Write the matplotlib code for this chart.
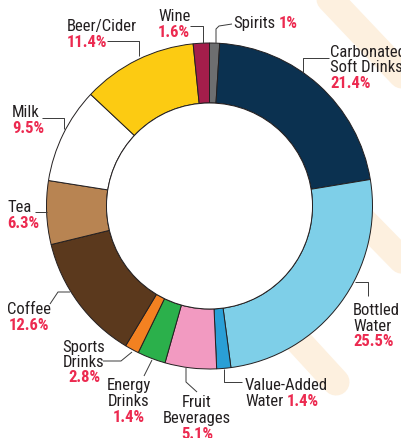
import matplotlib
matplotlib.use("Agg")
import matplotlib.pyplot as plt
from matplotlib import font_manager as fm

# ---------------- data ----------------
categories = ["Spirits", "Carbonated Soft Drinks", "Bottled Water", "Value-Added Water",
              "Fruit Beverages", "Energy Drinks", "Sports Drinks", "Coffee", "Tea",
              "Milk", "Beer/Cider", "Wine"]
# slice sizes as drawn in the ring (clockwise from 12 o'clock)
ring_share = [1.0, 21.4, 25.5, 1.4, 5.1, 2.8, 1.4, 12.6, 6.3, 9.5, 11.4, 1.6]
# percentages as printed on the labels
label_pct = ["1%", "21.4%", "25.5%", "1.4%", "5.1%", "1.4%", "2.8%", "12.6%", "6.3%",
             "9.5%", "11.4%", "1.6%"]
colors = ["#6d6e70", "#0b3150", "#7ecfe8", "#2a9fd6", "#f29ac1", "#2bb04b", "#f38121",
          "#5b391d", "#b88452", "#ffffff", "#fccb12", "#a41e4b"]

W, H = 401, 439
TXT = "#231f20"
RED = "#ec2a50"
LEAD = "#3a3a3a"
BEIGE = "#fdf0df"
FS = 12

available = {f.name for f in fm.fontManager.ttflist}
prefs = ["Liberation Sans Narrow", "Roboto Condensed", "Arial Narrow", "Archivo Narrow",
         "PT Sans Narrow", "IBM Plex Sans Condensed", "Fira Sans Condensed",
         "Asap Condensed", "Encode Sans Condensed", "Liberation Sans"]
FAM = ["DejaVu Sans"]
for p in prefs:
    if p in available:
        FAM = [p, "DejaVu Sans"]
        break

fig = plt.figure(figsize=(W / 100, H / 100), dpi=100)
ax = fig.add_axes([0, 0, 1, 1])


def Y(y):
    return H - y


# decorative background stripes
for (x0, y0), (x1, y1) in [((311, -20), (420, 95)),
                            ((350, 208), (440, 300)),
                            ((280, 322), (336, 383))]:
    ax.plot([x0, x1], [Y(y0), Y(y1)], color=BEIGE, lw=19.5,
            solid_capstyle="round", zorder=0)

# donut
cx, cy, R = 209.5, 207, 163
ax.pie(ring_share, colors=colors, startangle=90, counterclock=False,
       center=(cx, Y(cy)), radius=R,
       wedgeprops=dict(width=60, edgecolor="#231f20", linewidth=0.7),
       frame=True)
ax.add_patch(plt.Circle((cx, Y(cy)), R - 60, facecolor="white", edgecolor="#231f20",
                        linewidth=0.7, zorder=3))

ax.set_xlim(0, W)
ax.set_ylim(0, H)
ax.set_aspect("equal")
ax.axis("off")

renderer = fig.canvas.get_renderer()


def line(x, y, s, color=TXT, bold=False, ha="left"):
    return ax.text(x, Y(y), s, color=color, fontsize=FS, family=FAM,
                   fontweight="bold" if bold else "normal", ha=ha, va="baseline",
                   zorder=5)


def mixed(x, y, s1, s2, gap=4):
    t = line(x, y, s1)
    bb = t.get_window_extent(renderer=renderer)
    line(bb.x1 + gap, y, s2, color=RED, bold=True)


idx = {c: i for i, c in enumerate(categories)}
pct = lambda c: label_pct[idx[c]]

# labels
line(158, 21, "Wine"); line(158, 37, pct("Wine"), RED, True)
mixed(233, 27.5, "Spirits", pct("Spirits"))
line(67, 31, "Beer/Cider"); line(67, 47, pct("Beer/Cider"), RED, True)
line(330, 57, "Carbonated"); line(330, 72.5, "Soft Drinks"); line(330, 88, pct("Carbonated Soft Drinks"), RED, True)
line(12, 117, "Milk"); line(12, 133, pct("Milk"), RED, True)
line(7, 212, "Tea"); line(7, 227.5, pct("Tea"), RED, True)
line(29, 314, "Coffee", ha="center"); line(29, 330, pct("Coffee"), RED, True, ha="center")
line(84, 352, "Sports", ha="center"); line(84, 367, "Drinks", ha="center"); line(84, 382.5, pct("Sports Drinks"), RED, True, ha="center")
line(129, 390.5, "Energy", ha="center"); line(129, 406, "Drinks", ha="center"); line(129, 422, pct("Energy Drinks"), RED, True, ha="center")
line(197, 407, "Fruit", ha="center"); line(197, 423, "Beverages", ha="center"); line(197, 439, pct("Fruit Beverages"), RED, True, ha="center")
line(245, 390, "Value-Added"); mixed(245, 406.5, "Water", pct("Value-Added Water"))
line(353, 315, "Bottled"); line(353, 331, "Water"); line(353, 346.5, pct("Bottled Water"), RED, True)

# leader lines
leaders = [
    [(190, 27), (203, 27), (203, 44)],
    [(232, 25), (219, 27), (216, 30), (216, 44)],
    [(107, 42), (139, 42), (139, 57)],
    [(329, 59), (303, 59), (303, 74)],
    [(42, 119), (64, 119), (64, 130)],
    [(35, 213), (47, 213)],
    [(50, 305), (58, 293), (70, 293)],
    [(355, 283), (368, 283), (368, 297)],
    [(224, 370), (224, 383), (242, 383)],
    [(186, 369), (186, 383), (197, 393)],
    [(144, 377), (152, 361)],
    [(103, 362), (121, 362), (132, 353)],
]
for pts in leaders:
    ax.plot([p[0] for p in pts], [Y(p[1]) for p in pts], color=LEAD, lw=0.7,
            zorder=4, solid_capstyle="butt")

fig.savefig("out.png", dpi=100)
